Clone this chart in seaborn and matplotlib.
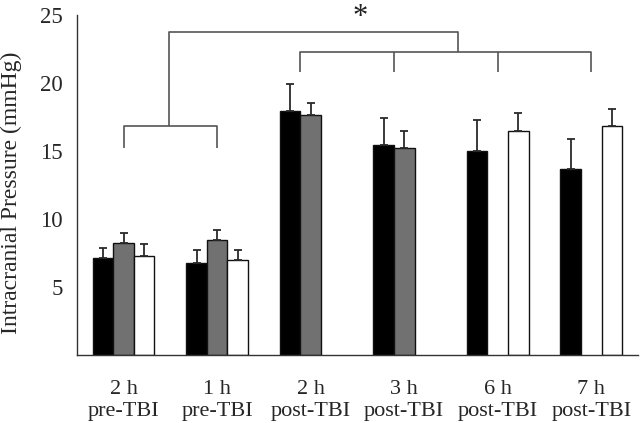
import numpy as np
import pandas as pd
import matplotlib
matplotlib.use("Agg")
import matplotlib.pyplot as plt
from matplotlib.container import BarContainer
import seaborn as sns

categories = ["2 h\npre-TBI", "1 h\npre-TBI", "2 h\npost-TBI",
              "3 h\npost-TBI", "6 h\npost-TBI", "7 h\npost-TBI"]
groups = ["A", "B", "C"]
nan = np.nan
icp_a = [7.15, 6.8, 17.95, 15.45, 15.0, 13.65]
err_a = [0.7, 0.9, 1.95, 1.95, 2.3, 2.25]
icp_b = [8.25, 8.5, 17.65, 15.25, nan, nan]
err_b = [0.7, 0.7, 0.9, 1.2, nan, nan]
icp_c = [7.3, 7.0, nan, nan, 16.45, 16.8]
err_c = [0.9, 0.75, nan, nan, 1.35, 1.25]
colors = ["#000000", "#717171", "#ffffff"]
ytick_vals = [0, 5, 10, 15, 20, 25]
ytick_labels = ["", "5", "10", "15", "20", "25"]

vals = [icp_a, icp_b, icp_c]
errs = [err_a, err_b, err_c]
rows = []
for g, v in zip(groups, vals):
    for c, y in zip(categories, v):
        rows.append({"time": c, "group": g, "icp": y})
df = pd.DataFrame(rows).dropna()

sns.set_style("white")
plt.rcParams["font.family"] = ["Liberation Serif", "DejaVu Serif"]

fig = plt.figure(figsize=(6.4, 4.23), dpi=100)
ax = fig.add_axes([0.12, 0.16, 0.877, 0.805])

sns.barplot(data=df, x="time", y="icp", hue="group", order=categories,
            hue_order=groups, palette=colors, width=0.66, errorbar=None,
            edgecolor="#111111", linewidth=1.0, legend=False, ax=ax,
            saturation=1)

bar_conts = [c for c in ax.containers if isinstance(c, BarContainer)]
for gi, cont in enumerate(bar_conts):
    for bar in cont.patches:
        h = bar.get_height()
        if not np.isfinite(h) or h == 0:
            continue
        xc = bar.get_x() + bar.get_width() / 2
        ci = int(round(xc))
        e = errs[gi][ci]
        if not np.isfinite(e):
            continue
        ax.errorbar([xc], [h], yerr=[[0], [e]], fmt="none", ecolor="#2a2a2a",
                    elinewidth=1.3, capsize=3, capthick=1.3, zorder=1)

ax.set_xlim(-0.5, 5.5)
ax.set_ylim(0, 25)
ax.set_yticks(ytick_vals, labels=ytick_labels)
ax.set_xticks(np.arange(-0.5, 6.0, 1.0), minor=False, labels=[""] * 7)
ax.set_xticks(np.arange(6), minor=True, labels=categories)
ax.tick_params(axis="x", which="minor", length=0, pad=18, labelsize=16)
ax.tick_params(axis="x", which="major", length=4, width=1, color="#333333", direction="out")
ax.tick_params(axis="y", length=3, width=1, color="#333333", direction="out",
               labelsize=16.5, pad=7)
for lab in ax.get_xticklabels(minor=True):
    lab.set_linespacing(1.17)
ax.set_xlabel("")
ax.set_ylabel("Intracranial Pressure (mmHg)", fontsize=17)
ax.yaxis.set_label_coords(-0.098, 0.478)
for s in ["top", "right"]:
    ax.spines[s].set_visible(False)
for s in ["left", "bottom"]:
    ax.spines[s].set_color("#333333")
    ax.spines[s].set_linewidth(1.0)

# significance brackets
lc = "#555555"
lw = 1.2
kw = dict(color=lc, lw=lw, clip_on=False, solid_capstyle="butt")
# lower-left bracket (pre-TBI)
ax.plot([0.0, 0.0, 1.0, 1.0], [15.25, 16.8, 16.8, 15.25], **kw)
# post-TBI bracket
ax.plot([1.89, 1.89, 5.0, 5.0], [20.8, 22.25, 22.25, 20.8], **kw)
ax.plot([2.89, 2.89], [20.8, 22.25], **kw)
ax.plot([4.0, 4.0], [20.8, 22.25], **kw)
# top bracket
ax.plot([0.49, 0.49, 3.58, 3.58], [16.8, 23.75, 23.75, 22.25], **kw)
ax.text(2.53, 24.25, "*", ha="center", va="baseline", fontsize=22,
        color="#222222", clip_on=False)

fig.savefig("out.png", dpi=100)
